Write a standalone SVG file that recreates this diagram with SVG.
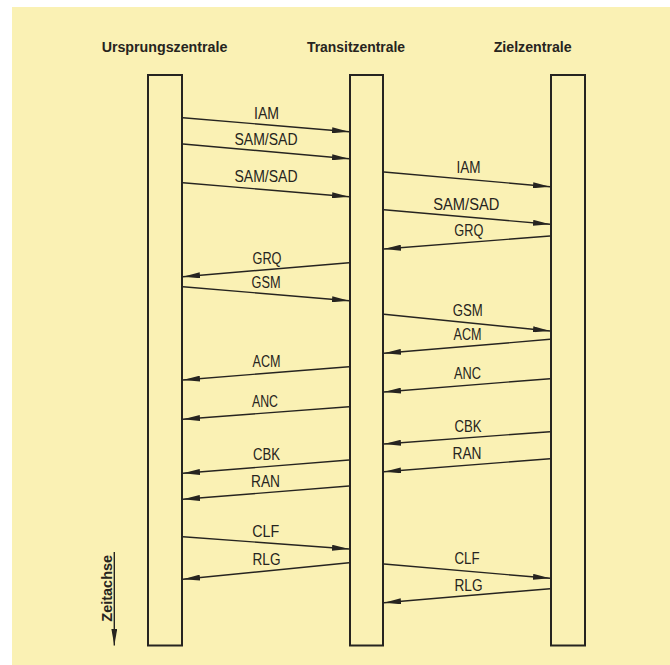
<svg xmlns="http://www.w3.org/2000/svg" width="670" height="665" viewBox="0 0 670 665">
<style>
.col{fill:none;stroke:#262420;stroke-width:2}
.msg{stroke:#262420;stroke-width:1.4;fill:none;marker-end:url(#ah)}
.lbl{font-family:"Liberation Sans",Arial,sans-serif;font-size:16px;fill:#262420;text-anchor:middle}
.hdr{font-family:"Liberation Sans",Arial,sans-serif;font-size:14px;font-weight:bold;fill:#262420;text-anchor:middle}
</style>
<defs>
<marker id="ah" markerUnits="userSpaceOnUse" viewBox="0 0 17 6" refX="17" refY="3" markerWidth="17" markerHeight="6" orient="auto">
<path d="M0,0 L17,3 L0,6 z" fill="#262420"/>
</marker>
</defs>
<rect x="0" y="0" width="670" height="665" fill="#ffffff"/>
<rect x="12" y="7" width="658" height="658" fill="#FAF1B4"/>

<g id="hdr-ursprung"><text class="hdr" x="164.5" y="51.5" textLength="125.7" lengthAdjust="spacingAndGlyphs">Ursprungszentrale</text></g>
<g id="hdr-transit"><text class="hdr" x="356" y="51.5" textLength="98" lengthAdjust="spacingAndGlyphs">Transitzentrale</text></g>
<g id="hdr-ziel"><text class="hdr" x="532.7" y="51.5" textLength="78" lengthAdjust="spacingAndGlyphs">Zielzentrale</text></g>

<g id="node-ursprung"><rect class="col" x="148" y="75" width="34" height="570.5"/></g>
<g id="node-transit"><rect class="col" x="350" y="75" width="33" height="570.5"/></g>
<g id="node-ziel"><rect class="col" x="551" y="75" width="34" height="570.5"/></g>

<g id="connectors">
<!-- Ursprung <-> Transit -->
<line class="msg" x1="183" y1="117.7" x2="349" y2="131.7"/>
<line class="msg" x1="183" y1="144" x2="349" y2="158.7"/>
<line class="msg" x1="183" y1="182.7" x2="349" y2="196.7"/>
<line class="msg" x1="349" y1="262.7" x2="183" y2="276.7"/>
<line class="msg" x1="183" y1="286.7" x2="349" y2="300.7"/>
<line class="msg" x1="349" y1="366.7" x2="183" y2="380"/>
<line class="msg" x1="349" y1="406.7" x2="183" y2="419.3"/>
<line class="msg" x1="349" y1="460" x2="183" y2="473.3"/>
<line class="msg" x1="349" y1="486" x2="183" y2="499.3"/>
<line class="msg" x1="183" y1="536.7" x2="349" y2="549"/>
<line class="msg" x1="349" y1="562.7" x2="183" y2="579.3"/>
<!-- Transit <-> Ziel -->
<line class="msg" x1="384" y1="172" x2="550" y2="186.7"/>
<line class="msg" x1="384" y1="209.7" x2="550" y2="224.3"/>
<line class="msg" x1="550" y1="236" x2="384" y2="249"/>
<line class="msg" x1="384" y1="314.3" x2="550" y2="331"/>
<line class="msg" x1="550" y1="339.3" x2="384" y2="353.3"/>
<line class="msg" x1="550" y1="378.7" x2="384" y2="392"/>
<line class="msg" x1="550" y1="431.7" x2="384" y2="444"/>
<line class="msg" x1="550" y1="458.7" x2="384" y2="471.7"/>
<line class="msg" x1="384" y1="564" x2="550" y2="578.3"/>
<line class="msg" x1="550" y1="588.7" x2="384" y2="602.7"/>
<!-- Zeitachse -->
<line class="msg" x1="114.3" y1="552" x2="114.3" y2="645.5"/>
</g>

<g id="labels">
<text class="lbl" x="266.5" y="119" textLength="25" lengthAdjust="spacingAndGlyphs">IAM</text>
<text class="lbl" x="266" y="145" textLength="63" lengthAdjust="spacingAndGlyphs">SAM/SAD</text>
<text class="lbl" x="266" y="182.3" textLength="63" lengthAdjust="spacingAndGlyphs">SAM/SAD</text>
<text class="lbl" x="267" y="263.5" textLength="29" lengthAdjust="spacingAndGlyphs">GRQ</text>
<text class="lbl" x="266" y="288" textLength="29" lengthAdjust="spacingAndGlyphs">GSM</text>
<text class="lbl" x="266.5" y="366.5" textLength="28" lengthAdjust="spacingAndGlyphs">ACM</text>
<text class="lbl" x="265" y="406.5" textLength="26" lengthAdjust="spacingAndGlyphs">ANC</text>
<text class="lbl" x="266.5" y="460" textLength="27" lengthAdjust="spacingAndGlyphs">CBK</text>
<text class="lbl" x="265.5" y="487.3" textLength="29" lengthAdjust="spacingAndGlyphs">RAN</text>
<text class="lbl" x="265.7" y="536.8" textLength="27" lengthAdjust="spacingAndGlyphs">CLF</text>
<text class="lbl" x="266.5" y="565" textLength="28" lengthAdjust="spacingAndGlyphs">RLG</text>

<text class="lbl" x="468.5" y="172.5" textLength="24" lengthAdjust="spacingAndGlyphs">IAM</text>
<text class="lbl" x="466.3" y="209.8" textLength="66" lengthAdjust="spacingAndGlyphs">SAM/SAD</text>
<text class="lbl" x="468.8" y="236" textLength="29" lengthAdjust="spacingAndGlyphs">GRQ</text>
<text class="lbl" x="467.7" y="315.5" textLength="30" lengthAdjust="spacingAndGlyphs">GSM</text>
<text class="lbl" x="467.5" y="339.5" textLength="28" lengthAdjust="spacingAndGlyphs">ACM</text>
<text class="lbl" x="467.5" y="378.5" textLength="27" lengthAdjust="spacingAndGlyphs">ANC</text>
<text class="lbl" x="468" y="431.7" textLength="27" lengthAdjust="spacingAndGlyphs">CBK</text>
<text class="lbl" x="467" y="458.5" textLength="29" lengthAdjust="spacingAndGlyphs">RAN</text>
<text class="lbl" x="467" y="564.2" textLength="25" lengthAdjust="spacingAndGlyphs">CLF</text>
<text class="lbl" x="468.5" y="590.7" textLength="28" lengthAdjust="spacingAndGlyphs">RLG</text>

<text class="hdr" transform="translate(111.5,588.3) rotate(-90)" x="0" y="0" textLength="66.7" lengthAdjust="spacingAndGlyphs">Zeitachse</text>
</g>
</svg>
